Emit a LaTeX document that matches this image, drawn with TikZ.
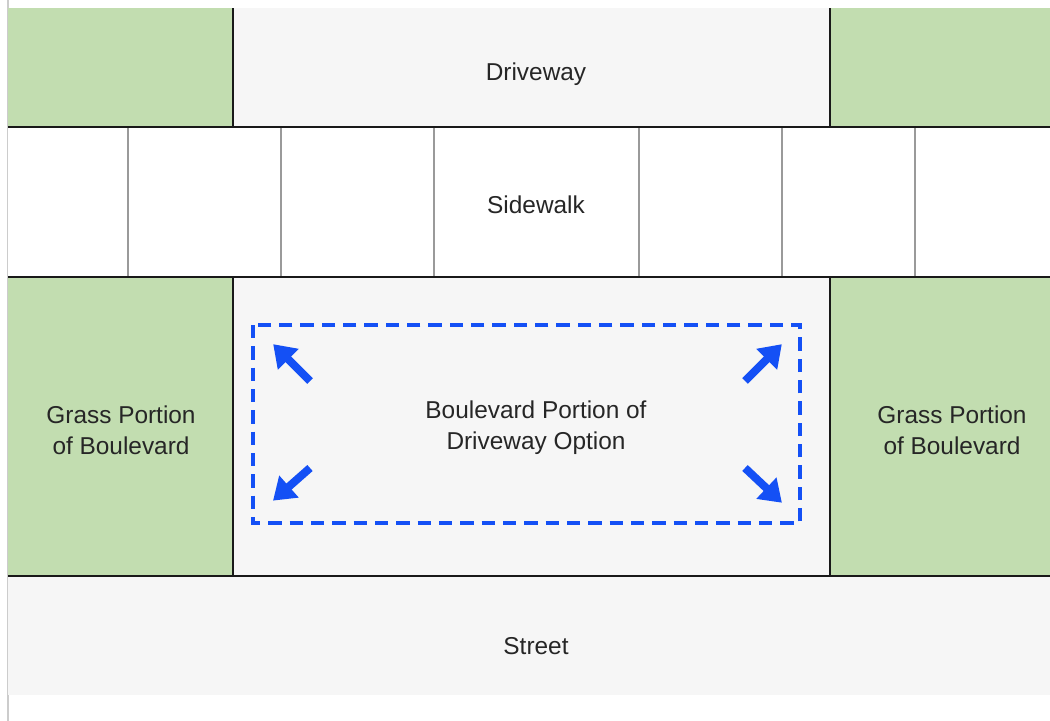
\documentclass[tikz,border=0pt]{standalone}
\usepackage{fontspec}
\setmainfont{Liberation Sans}
\usetikzlibrary{arrows.meta}
\definecolor{grass}{HTML}{C2DDB0}
\definecolor{pave}{HTML}{F6F6F6}
\definecolor{bluex}{HTML}{1450F5}
\definecolor{divgray}{HTML}{9A9A9A}
\tikzset{
  lbl/.style={font=\fontsize{18.3}{23.5}\selectfont, text=black!85, align=center, inner sep=0pt},
  border/.style={draw=black!90, line width=1.6pt},
  divider/.style={draw=divgray, line width=0.8pt},
  dashbox/.style={draw=bluex, line width=2.3pt, dash pattern=on 10pt off 6pt},
  bigarrow/.style={draw=bluex, line width=6pt, -{Triangle[length=16pt,width=21pt]}, shorten >=-3pt}
}
\begin{document}
\begin{tikzpicture}[x=0.75pt,y=-0.75pt]
\useasboundingbox (0,0) rectangle (1050,721);
\fill[white] (0,0) rectangle (1050,721);
\draw[draw=black!20, line width=0.8pt] (8,0) -- (8,721);
% driveway row
\fill[grass] (8,8) rectangle (233,127);
\fill[pave] (233,8) rectangle (830,127);
\fill[grass] (830,8) rectangle (1050,127);
% sidewalk row
\fill[white] (8,127) rectangle (1050,277);
\foreach \x in {128,281,434,639,782,915} \draw[divider] (\x,127) -- (\x,277);
% boulevard row
\fill[grass] (8,277) rectangle (233,576);
\fill[pave] (233,277) rectangle (830,576);
\fill[grass] (830,277) rectangle (1050,576);
% street
\fill[pave] (8,576) rectangle (1050,695);
% borders
\draw[border] (233,8) -- (233,127);
\draw[border] (830,8) -- (830,127);
\draw[border] (233,277) -- (233,576);
\draw[border] (830,277) -- (830,576);
\draw[border] (8,127) -- (1050,127);
\draw[border] (8,277) -- (1050,277);
\draw[border] (8,576) -- (1050,576);
% labels
\node[lbl] (drive) at (536,74) {Driveway};
\node[lbl] (side) at (536,205) {Sidewalk};
\node[lbl] (grassL) at (121,430) {Grass Portion\\of Boulevard};
\node[lbl] (grassR) at (952,430) {Grass Portion\\of Boulevard};
\node[lbl] (blvd) at (536,428) {Boulevard Portion of\\Driveway Option};
\node[lbl] (street) at (536,646) {Street};
% dashed option box
\draw[dashbox] (253,325) rectangle (800,523);
% arrows
\coordinate (tlA) at (310,381); \coordinate (tlB) at (276,347);
\coordinate (trA) at (745,381); \coordinate (trB) at (779,347);
\coordinate (blA) at (310,468); \coordinate (blB) at (276,498);
\coordinate (brA) at (745,468); \coordinate (brB) at (779,500);
\draw[bigarrow] (tlA) -- (tlB);
\draw[bigarrow] (trA) -- (trB);
\draw[bigarrow] (blA) -- (blB);
\draw[bigarrow] (brA) -- (brB);
\end{tikzpicture}
\end{document}
